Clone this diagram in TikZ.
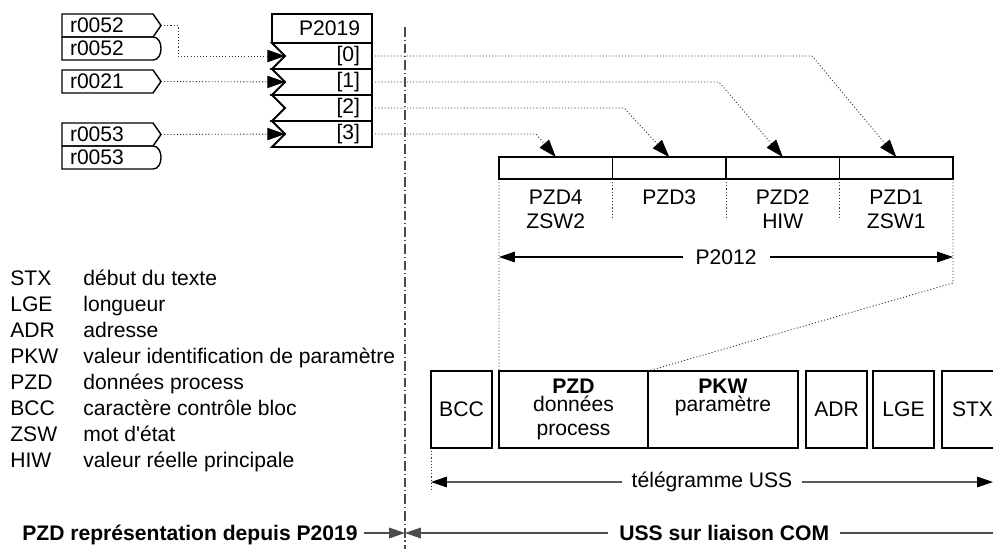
\documentclass[tikz,border=0pt]{standalone}
\usepackage{fontspec}
\setmainfont[Ligatures=TeXOff]{Liberation Sans}
\usetikzlibrary{arrows.meta,positioning,calc}
\tikzset{
  >={Triangle[length=9pt,width=6pt]},
  sigbox/.style={minimum width=19.8mm, minimum height=4.6mm, inner xsep=1.6mm, inner ysep=0pt, text width=16.6mm, align=left, outer sep=0pt},
  parhead/.style={draw, line width=1.1pt, minimum width=20mm, minimum height=5.8mm, inner xsep=2.4mm, inner ysep=0pt, text width=15.2mm, align=right, outer sep=0pt},
  parrow/.style={minimum width=17.4mm, minimum height=5.2mm, inner xsep=2.4mm, inner ysep=0pt, text width=12.6mm, align=right, outer sep=0pt},
  pzdcell/.style={draw, line width=1.1pt, minimum width=22.7mm, minimum height=4.4mm, inner sep=0pt, outer sep=0pt},
  pzdlbl/.style={align=center, inner sep=0pt},
  telbox/.style={draw, line width=1.3pt, minimum width=12.2mm, minimum height=15.4mm, inner sep=0pt, outer sep=0pt, align=center},
  telfield/.style={draw, line width=0.6pt, minimum height=15.4mm, inner sep=0pt, outer sep=0pt, align=center},
  mapline/.style={black!80, line width=0.5pt, dash pattern=on 0.6pt off 1.2pt},
  maparrow/.style={mapline, -{Triangle[length=10pt,width=7pt,color=black]}},
  dimline/.style={<->, line width=0.6pt},
  comline/.style={black!70, line width=0.8pt},
  sepline/.style={black!70, line width=0.9pt, dash pattern=on 5.5pt off 1.7pt on 0.6pt off 1.7pt},
  legend/.style={anchor=base west, inner sep=0pt},
}
\begin{document}
\begin{tikzpicture}[x=0.2mm, y=-0.2mm, node distance=0pt, font=\fontsize{12}{13.6}\selectfont]
  \useasboundingbox (0,0) rectangle (993,549);

  \node[sigbox, anchor=north west] (in52) at (62,14) {r0052};
  \node[sigbox, below=of in52] (in52b) {r0052};
  \node[sigbox, anchor=north west] (in21) at (62,70) {r0021};
  \node[sigbox, anchor=north west] (in53) at (62,123) {r0053};
  \node[sigbox, below=of in53] (in53b) {r0053};
  \foreach \nm in {in52,in21,in53}
    \draw[line width=0.8pt] (\nm.north west) -- ($(\nm.north east)+(-8,0)$) -- (\nm.east) -- ($(\nm.south east)+(-8,0)$) -- (\nm.south west) -- cycle;
  \foreach \nm in {in52b,in53b}
    \draw[line width=0.8pt] (\nm.south west) -- (\nm.north west) -- ($(\nm.north east)+(-8,0)$) .. controls +(10.7,0) and +(10.7,0) .. ($(\nm.south east)+(-8,0)$) -- cycle;

  \node[parhead, anchor=north west] (phead) at (272,14) {P2019};
  \node[parrow, anchor=north east] (p0) at (phead.south east) {[0]};
  \node[parrow, below=of p0] (p1) {[1]};
  \node[parrow, below=of p1] (p2) {[2]};
  \node[parrow, below=of p2] (p3) {[3]};
  \foreach \nm in {p0,p1,p2,p3}
    \draw[line width=1.1pt] ($(\nm.north west)+(-13,0)$) -- (\nm.north east) -- (\nm.south east) -- ($(\nm.south west)+(-13,0)$) -- (\nm.west) -- cycle;

  \coordinate (septop) at (405,27);
  \coordinate (sepbot) at (405,549);
  \draw[sepline] (septop) -- (sepbot);

  \draw[maparrow] (in52.east) -- ++(17,0) |- (p0.west);
  \draw[maparrow] (in21.east) -- (p1.west);
  \draw[maparrow] (in53.east) -- (p3.west);

  \node[pzdcell, anchor=north west] (pzd4) at (499,157) {};
  \node[pzdcell, right=of pzd4] (pzd3) {};
  \node[pzdcell, right=of pzd3] (pzd2) {};
  \node[pzdcell, right=of pzd2] (pzd1) {};
  \node[pzdlbl, below=2.1mm of pzd4] (lbl4) {PZD4\\ZSW2};
  \node[pzdlbl, below=2.1mm of pzd3] (lbl3) {PZD3};
  \node[pzdlbl, below=2.1mm of pzd2] (lbl2) {PZD2\\HIW};
  \node[pzdlbl, below=2.1mm of pzd1] (lbl1) {PZD1\\ZSW1};
  \foreach \nm in {pzd4,pzd3,pzd2}
    \draw[mapline] (\nm.south east) -- ++(0,38);

  \draw[maparrow] (p0.east) -- ++(440,0) -- (pzd1.north);
  \draw[maparrow] (p1.east) -- ++(347,0) -- (pzd2.north);
  \draw[maparrow] (p2.east) -- ++(252,0) -- (pzd3.north);
  \draw[maparrow] (p3.east) -- ++(164,0) -- (pzd4.north);

  \coordinate (dl) at ($(pzd4.south west)+(0,78)$);
  \coordinate (dr) at ($(pzd1.south east)+(0,78)$);
  \draw[dimline] (dl) -- node[fill=white, inner xsep=2.6mm] (p2012) {P2012} (dr);

  \node[telbox, anchor=north west] (bcc) at (431,371) {BCC};
  \node[telfield, minimum width=29.8mm, right=1.4mm of bcc] (tpzd) {\textbf{PZD}\\[-3pt]données\\process};
  \node[telfield, minimum width=30mm, right=of tpzd] (tpkw) {\textbf{PKW}\\[-3pt]paramètre\\ \phantom{p}};
  \draw[line width=1.3pt] (tpzd.north west) rectangle (tpkw.south east);
  \node[telbox, right=1.6mm of tpkw] (adr) {ADR};
  \node[telbox, right=1.2mm of adr] (lge) {LGE};
  \node[telbox, right=1.6mm of lge] (stx) {STX};

  \draw[mapline] (pzd4.south west) -- (tpzd.north west);
  \draw[mapline] (pzd1.south east) -- ++(0,104) -- (tpkw.north west);

  \draw[mapline] (bcc.south west) -- ++(0,42);
  \coordinate (tl) at ($(bcc.south west)+(0,34)$);
  \coordinate (tr) at (993,482);
  \draw[dimline] (tl) -- node[fill=white, inner xsep=2mm] (tel) {télégramme USS} (tr);

  \foreach \ab/\txt [count=\i from 0] in {STX/début du texte, LGE/longueur, ADR/adresse, PKW/valeur identification de paramètre, PZD/données process, BCC/caractère contrôle bloc, ZSW/mot d'état, HIW/valeur réelle principale}{
    \node[legend] (ab\i) at (10,285.5+26*\i) {\ab};
    \node[legend] (tx\i) at (83,285.5+26*\i) {\txt};
  }

  \coordinate (bnd) at (405,533);
  \coordinate (rend) at (993,533);
  \node[text depth=0pt, font=\fontsize{12}{13.6}\selectfont\bfseries] (lhs) at (190,533) {PZD représentation depuis P2019};
  \draw[comline, ->] (lhs.east) -- (bnd);
  \draw[comline, ->] (rend) -- node[pos=0.457, fill=white, text=black, inner xsep=2.2mm, font=\fontsize{12}{13.6}\selectfont\bfseries] (com) {USS sur liaison COM} (bnd);
\end{tikzpicture}
\end{document}
